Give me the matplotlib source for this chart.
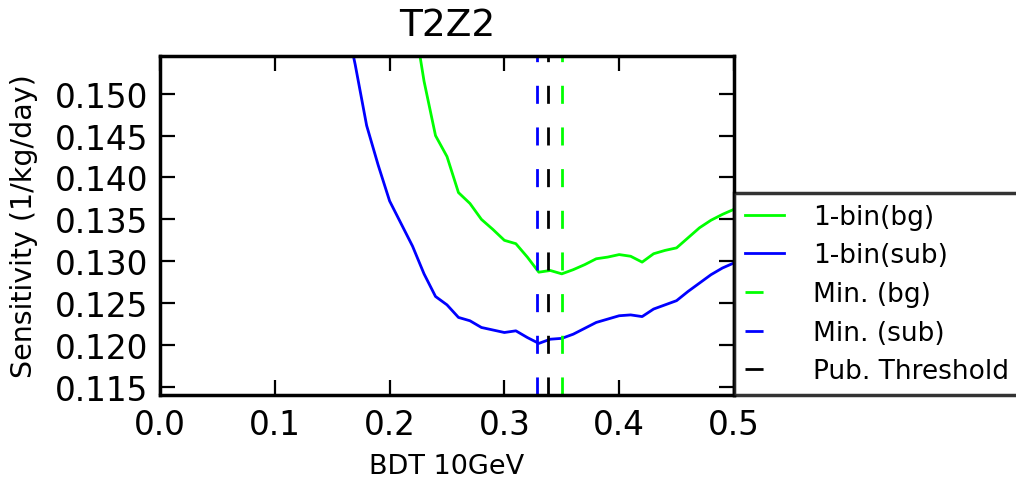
import numpy as np
import matplotlib
matplotlib.use('Agg')
import matplotlib.pyplot as plt

# BDT cut values and sensitivities
x_sub = [0.16, 0.17, 0.18, 0.19, 0.20, 0.21, 0.22, 0.23, 0.24, 0.25, 0.26, 0.27,
         0.28, 0.29, 0.30, 0.31, 0.32, 0.33, 0.34, 0.35, 0.36, 0.37, 0.38, 0.39,
         0.40, 0.41, 0.42, 0.43, 0.44, 0.45, 0.46, 0.47, 0.48, 0.49, 0.50]
sens_sub = [0.1600, 0.1535, 0.1462, 0.1415, 0.1372, 0.1345, 0.1318, 0.1285, 0.1258,
            0.1248, 0.1233, 0.1229, 0.1221, 0.1218, 0.1215, 0.1217, 0.1209, 0.1202,
            0.1207, 0.1208, 0.1213, 0.1220, 0.1227, 0.1231, 0.1235, 0.1236, 0.1234,
            0.1243, 0.1248, 0.1253, 0.1264, 0.1274, 0.1284, 0.1292, 0.1298]

x_bg = [0.22, 0.23, 0.24, 0.25, 0.26, 0.27, 0.28, 0.29, 0.30, 0.31, 0.32, 0.33,
        0.34, 0.35, 0.36, 0.37, 0.38, 0.39, 0.40, 0.41, 0.42, 0.43, 0.44, 0.45,
        0.46, 0.47, 0.48, 0.49, 0.50]
sens_bg = [0.1600, 0.1515, 0.1450, 0.1425, 0.1382, 0.1369, 0.1350, 0.1338, 0.1325,
           0.1321, 0.1305, 0.1287, 0.1289, 0.1285, 0.1290, 0.1296, 0.1303, 0.1305,
           0.1308, 0.1306, 0.1299, 0.1309, 0.1313, 0.1316, 0.1328, 0.1340, 0.1349,
           0.1356, 0.1362]

min_bg = 0.350
min_sub = 0.328
pub_threshold = 0.3376

plt.rcParams['lines.scale_dashes'] = False
plt.rcParams['xtick.direction'] = 'in'
plt.rcParams['ytick.direction'] = 'in'
plt.rcParams['xtick.top'] = True
plt.rcParams['ytick.right'] = True

fig = plt.figure(figsize=(10.16, 4.81), dpi=100)
ax = fig.add_axes([0.1575, 0.1767, 0.5649, 0.7048])

dash = (13, 17)
ax.plot(x_bg, sens_bg, color='#00ff00', lw=2.0, label='1-bin(bg)')
ax.plot(x_sub, sens_sub, color='#0000ff', lw=2.0, label='1-bin(sub)')
ax.axvline(min_bg, color='#00ff00', lw=2.0, dashes=dash, label='Min. (bg)')
ax.axvline(min_sub, color='#0000ff', lw=2.0, dashes=dash, label='Min. (sub)')
ax.axvline(pub_threshold, color='black', lw=2.0, dashes=dash, label='Pub. Threshold')

ax.set_xlim(0, 0.5)
ax.set_ylim(0.11404, 0.1545)
ax.set_xticks(np.arange(0, 0.51, 0.1))
ax.set_yticks(np.arange(0.115, 0.1501, 0.005))
ax.tick_params(labelsize=23.5, length=11, width=1.6)
ax.tick_params(axis='x', pad=9)
ax.tick_params(axis='y', pad=8.5)
for s in ax.spines.values():
    s.set_linewidth(2.5)

ax.set_title('T2Z2', fontsize=27, pad=15)
ax.set_xlabel('BDT 10GeV', fontsize=19.5, labelpad=9)
ax.set_ylabel('Sensitivity (1/kg/day)', fontsize=20.5, labelpad=12)

leg = ax.legend(loc='lower left', bbox_to_anchor=(1.0, 0.0), borderaxespad=0,
                fontsize=19, frameon=True, fancybox=False, handlelength=1.5,
                handletextpad=1.1, labelspacing=0.48, borderpad=0.4)
leg.get_frame().set_edgecolor('black')
leg.get_frame().set_linewidth(2.5)

fig.savefig('out.png', dpi=100)
